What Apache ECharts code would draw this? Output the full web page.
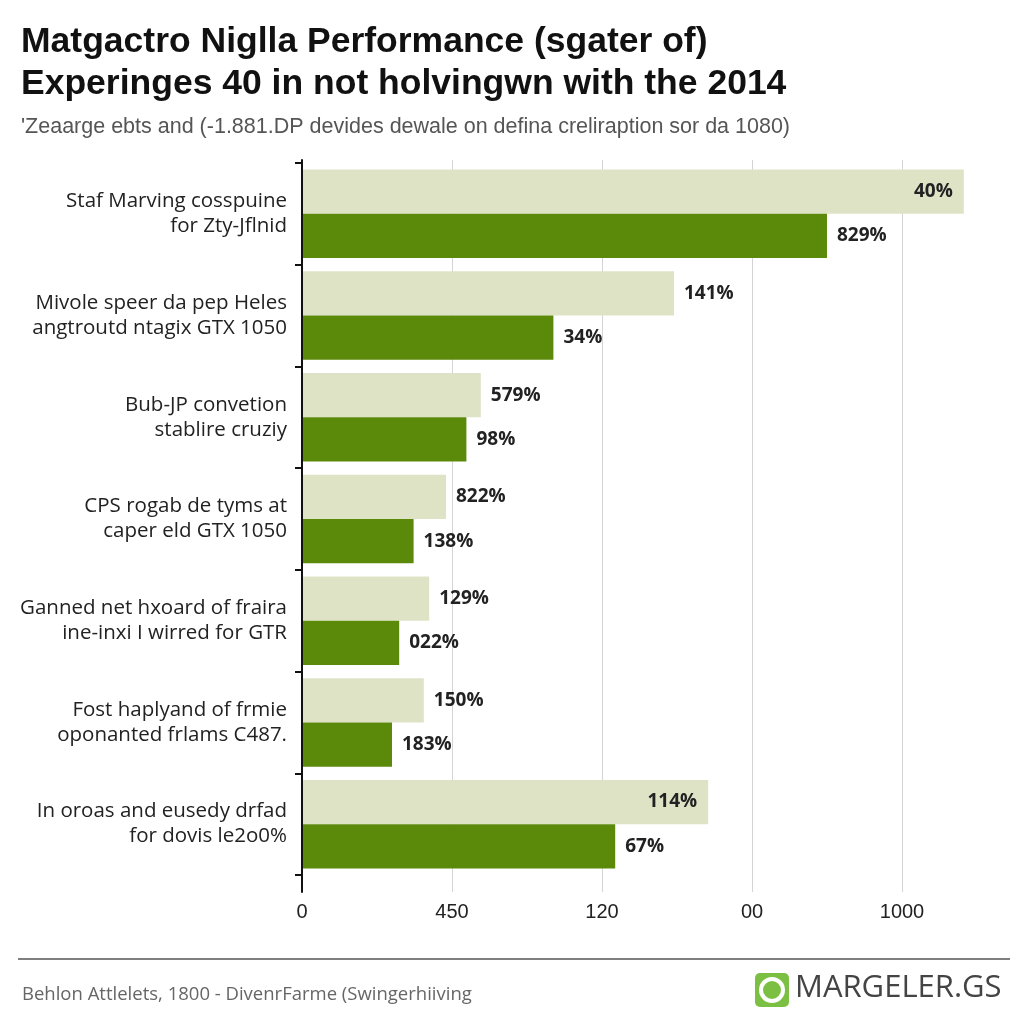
<!DOCTYPE html>
<html><head><meta charset="utf-8">
<script src="https://cdn.jsdelivr.net/npm/echarts@6/dist/echarts.min.js"></script>
<style>html,body{margin:0;padding:0;background:#fff}#c{width:1024px;height:1024px}</style>
</head><body><div id="c"></div>
<script>
const categories = [
  "Staf Marving cosspuine\nfor Zty-Jflnid",
  "Mivole speer da pep Heles\nangtroutd ntagix GTX 1050",
  "Bub-JP convetion\nstablire cruziy",
  "CPS rogab de tyms at\ncaper eld GTX 1050",
  "Ganned net hxoard of fraira\nine-inxi I wirred for GTR",
  "Fost haplyand of frmie\noponanted frlams C487.",
  "In oroas and eusedy drfad\nfor dovis le2o0%"
];
const lightValues = [1103, 620, 298, 240, 212, 203, 677];
const darkValues = [875, 419, 274, 186, 162, 150, 522];
const lightLabels = ["40%", "141%", "579%", "822%", "129%", "150%", "114%"];
const darkLabels = ["829%", "34%", "98%", "138%", "022%", "183%", "67%"];
const lightInside = [true, false, false, false, false, false, true];
const tickValues = [0, 250, 500, 750, 1000];
const tickLabels = ["0", "450", "120", "00", "1000"];

const titleText = "Matgactro Niglla Performance (sgater of)\nExperinges 40 in not holvingwn with the 2014";
const subtitleText = "'Zeaarge ebts and (-1.881.DP devides dewale on defina creliraption sor da 1080)";
const footerText = "Behlon Attlelets, 1800 - DivenrFarme (Swingerhiiving";
const logoText = "MARGELER.GS";

const labelStyle = {
  show: true, position: 'right', distance: 10,
  fontFamily: 'Open Sans', fontWeight: 'bold', fontSize: 19, color: '#222'
};

const chart = echarts.init(document.getElementById('c'), null, {renderer: 'canvas'});
chart.setOption({
  backgroundColor: '#ffffff',
  animation: false,
  title: [
    {text: titleText, left: 16, top: 16,
     textStyle: {fontFamily: 'Liberation Sans', fontWeight: 'bold', fontSize: 35.5, lineHeight: 42, color: '#111'}},
    {text: subtitleText, left: 16, top: 108,
     textStyle: {fontFamily: 'Liberation Sans', fontWeight: 'normal', fontSize: 21.5, lineHeight: 28, color: '#555'}},
    {text: footerText, left: 17, top: 979,
     textStyle: {fontFamily: 'Open Sans', fontWeight: 'normal', fontSize: 18.5, lineHeight: 22, color: '#666'}}
  ],
  grid: [
    {left: 302, right: 56, top: 163, bottom: 149},
    {left: 302, right: 122, top: 160, bottom: 132}
  ],
  xAxis: [
    {type: 'value', gridIndex: 0, min: 0, max: 1110, show: false},
    {type: 'value', gridIndex: 1, min: 0, max: 1000, interval: 250,
     axisLine: {show: false}, axisTick: {show: false},
     splitLine: {show: true, lineStyle: {color: '#d4d4d4', width: 1}},
     axisLabel: {margin: 10, fontFamily: 'Liberation Sans', fontSize: 20, color: '#222',
       formatter: v => { const i = tickValues.indexOf(v); return i >= 0 ? tickLabels[i] : ''; }}}
  ],
  yAxis: [
    {type: 'category', gridIndex: 0, inverse: true, data: categories,
     axisLine: {show: true, lineStyle: {color: '#111', width: 2}},
     axisTick: {show: true, length: 7, lineStyle: {color: '#111', width: 2}},
     axisLabel: {margin: 15, fontFamily: 'Open Sans', fontSize: 20.5, lineHeight: 25, color: '#222', align: 'right',
       padding: [8, 0, 0, 0]},
     z: 3},
    {type: 'value', gridIndex: 1, min: 0, max: 1,
     axisLine: {show: true, lineStyle: {color: '#111', width: 2}},
     axisTick: {show: false}, axisLabel: {show: false}, splitLine: {show: false}, z: 3}
  ],
  series: [
    {type: 'bar', name: 'A', xAxisIndex: 0, yAxisIndex: 0,
     barCategoryGap: '13%', barGap: '0%',
     itemStyle: {color: '#dfe3c6'},
     data: lightValues.map((v, i) => ({value: v,
       label: lightInside[i] ? {position: 'insideRight', distance: 11} : {}})),
     label: Object.assign({}, labelStyle, {formatter: p => lightLabels[p.dataIndex]})},
    {type: 'bar', name: 'B', xAxisIndex: 0, yAxisIndex: 0,
     barCategoryGap: '13%', barGap: '0%',
     itemStyle: {color: '#5b8a0b'},
     data: darkValues,
     label: Object.assign({}, labelStyle, {formatter: p => darkLabels[p.dataIndex]})}
  ],
  graphic: [
    {type: 'line', shape: {x1: 18, y1: 959, x2: 1010, y2: 959}, style: {stroke: '#555', lineWidth: 1.5}},
    {type: 'rect', shape: {x: 755, y: 973, width: 34, height: 34, r: 5}, style: {fill: '#7bc043'}},
    {type: 'circle', shape: {cx: 772, cy: 990, r: 11}, style: {fill: 'none', stroke: '#fff', lineWidth: 4}},
    {type: 'text', left: 795, top: 973,
     style: {text: logoText, fontFamily: 'Open Sans', fontSize: 31, fill: '#444'}}
  ]
});
</script>
</body></html>
